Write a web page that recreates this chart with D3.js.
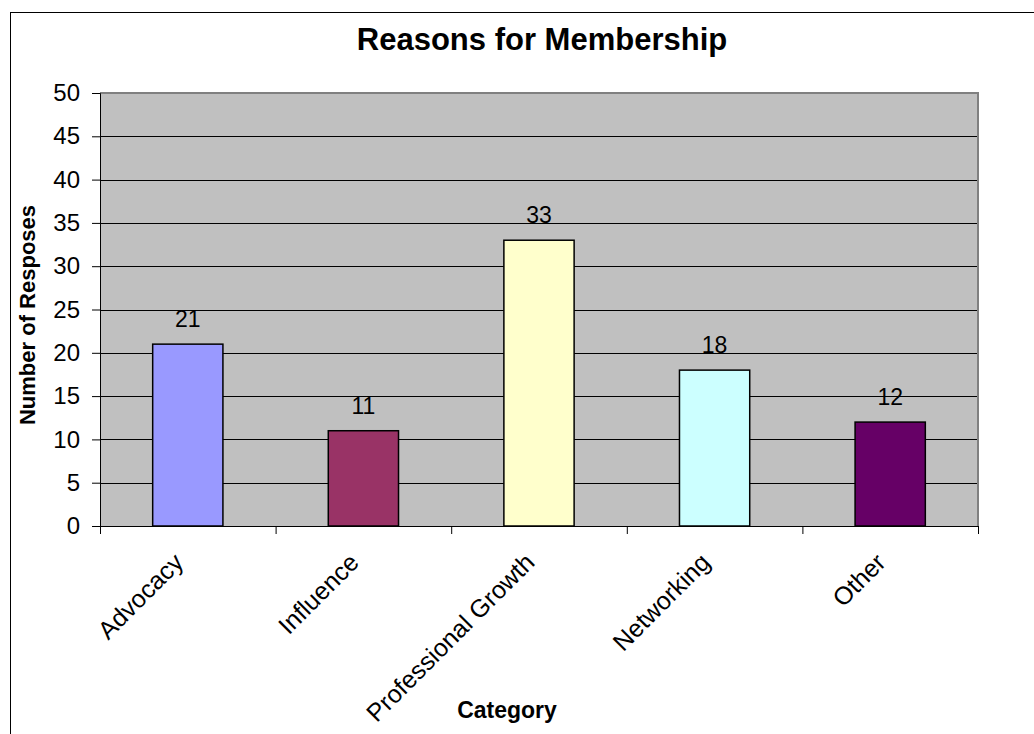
<!DOCTYPE html>
<html>
<head>
<meta charset="utf-8">
<script src="https://cdn.jsdelivr.net/npm/d3@7"></script>
<style>
  body { margin: 0; background: #fff; }
  text { font-family: "Liberation Sans", Arial, sans-serif; fill: #000; }
</style>
</head>
<body>
<script>
const w = 1034;
const h = 734;

// data
const categories = ["Advocacy", "Influence", "Professional Growth", "Networking", "Other"];
const responses = [21, 11, 33, 18, 12];
const barColors = ["#9999FF", "#993366", "#FFFFCC", "#CCFFFF", "#660066"];
const yTicks = [0, 5, 10, 15, 20, 25, 30, 35, 40, 45, 50];

const plot = { left: 100, right: 978, top: 93, bottom: 526 };

const svg = d3.select("body").append("svg").attr("width", w).attr("height", h);

// outer chart border (runs off the picture at right and bottom)
svg.append("rect")
    .attr("x", 10.5).attr("y", 12.5)
    .attr("width", 1100).attr("height", 800)
    .attr("fill", "none").attr("stroke", "#000").attr("stroke-width", 1);

const yScale = d3.scaleLinear()
    .domain([0, 50])
    .range([plot.bottom, plot.top]);

// category slots (ticks sit between them)
const slot = d3.scaleLinear()
    .domain([0, categories.length])
    .range([plot.left, plot.right]);

const xBand = d3.scaleBand()
    .domain(categories)
    .range([plot.left, plot.right])
    .paddingInner(0.6)
    .paddingOuter(0.3);

// plot background
svg.append("rect")
    .attr("x", plot.left).attr("y", plot.top)
    .attr("width", plot.right - plot.left).attr("height", plot.bottom - plot.top)
    .attr("fill", "#C0C0C0");

// gridlines
svg.append("g")
    .selectAll("line")
    .data(yTicks.filter(t => t > 0 && t < 50))
    .enter()
    .append("line")
    .attr("x1", plot.left).attr("x2", plot.right)
    .attr("y1", d => Math.round(yScale(d)) + 0.5)
    .attr("y2", d => Math.round(yScale(d)) + 0.5)
    .attr("stroke", "#000").attr("stroke-width", 1);

// top and right edge of the plot area
svg.append("path")
    .attr("d", `M${plot.left},${plot.top} H${plot.right} V${plot.bottom}`)
    .attr("fill", "none").attr("stroke", "#808080").attr("stroke-width", 2);

// bars
svg.selectAll(".bar")
    .data(categories)
    .enter()
    .append("rect")
    .attr("class", "bar")
    .attr("x", d => xBand(d))
    .attr("y", (d, i) => yScale(responses[i]))
    .attr("width", xBand.bandwidth())
    .attr("height", (d, i) => yScale(0) - yScale(responses[i]))
    .attr("fill", (d, i) => barColors[i])
    .attr("stroke", "#000").attr("stroke-width", 1.5);

// value labels
svg.selectAll(".val")
    .data(categories)
    .enter()
    .append("text")
    .attr("class", "val")
    .attr("x", d => xBand(d) + xBand.bandwidth() / 2)
    .attr("y", (d, i) => yScale(responses[i]) - 17)
    .attr("text-anchor", "middle")
    .style("font-size", "23px")
    .text((d, i) => responses[i]);

// y axis
const yAxis = d3.axisLeft(yScale).tickValues(yTicks).tickSize(8).tickPadding(12);
const gy = svg.append("g")
    .attr("transform", "translate(" + plot.left + ",0)")
    .call(yAxis);
gy.select(".domain").attr("stroke", "#000");
gy.selectAll(".tick line").attr("stroke", "#000");
gy.selectAll(".tick text")
    .style("font-family", "Liberation Sans, Arial, sans-serif")
    .style("font-size", "24px")
    .attr("fill", "#000");

// x axis: ticks between categories
const xAxis = d3.axisBottom(slot)
    .tickValues(d3.range(categories.length + 1))
    .tickSize(8)
    .tickSizeOuter(0)
    .tickFormat("");
const gx = svg.append("g")
    .attr("transform", "translate(0," + plot.bottom + ")")
    .call(xAxis);
gx.select(".domain").attr("stroke", "#000");
gx.selectAll(".tick line").attr("stroke", "#000");

// category labels, rotated
svg.selectAll(".cat")
    .data(categories)
    .enter()
    .append("text")
    .attr("class", "cat")
    .attr("text-anchor", "end")
    .attr("transform", (d, i) => "translate(" + (slot(i + 0.5) - 3) + "," + (plot.bottom + 38) + ") rotate(-45)")
    .style("font-size", "25px")
    .text(d => d);

// title
svg.append("text")
    .attr("x", 542)
    .attr("y", 50)
    .attr("text-anchor", "middle")
    .style("font-size", "31px")
    .style("font-weight", "bold")
    .text("Reasons for Membership");

// y axis title
svg.append("text")
    .attr("transform", "translate(35,315) rotate(-90)")
    .attr("text-anchor", "middle")
    .style("font-size", "22px")
    .style("font-weight", "bold")
    .text("Number of Resposes");

// x axis title
svg.append("text")
    .attr("x", 507)
    .attr("y", 718)
    .attr("text-anchor", "middle")
    .style("font-size", "23px")
    .style("font-weight", "bold")
    .text("Category");
</script>
</body>
</html>
